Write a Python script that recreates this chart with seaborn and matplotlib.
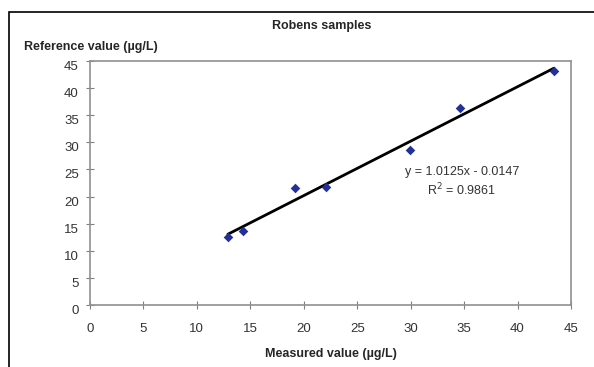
import matplotlib
matplotlib.use("Agg")
import matplotlib.pyplot as plt
import seaborn as sns
import pandas as pd
from matplotlib.patches import Rectangle

# Datos
measured = [12.9, 14.3, 19.2, 22.1, 29.9, 34.6, 43.4]
reference = [12.6, 13.7, 21.6, 21.8, 28.6, 36.3, 43.2]
ticks = [0, 5, 10, 15, 20, 25, 30, 35, 40, 45]

df = pd.DataFrame({"measured": measured, "reference": reference})

sns.set_style("white")
plt.rcParams["font.family"] = ["Liberation Sans", "DejaVu Sans"]

fig = plt.figure(figsize=(5.94, 3.67), dpi=100)
ax = fig.add_axes([90 / 594, 1 - 305 / 367, 481 / 594, 244 / 367])

# Recta de regresion y puntos
sns.regplot(data=df, x="measured", y="reference", ax=ax, ci=None, marker="D",
            scatter_kws=dict(s=24, color="#23309a", alpha=1, zorder=3, linewidths=0),
            line_kws=dict(color="black", lw=2, zorder=2))

ax.set_xlim(0, 45)
ax.set_ylim(0, 45)
ax.set_xticks(ticks)
ax.set_yticks(ticks)
ax.tick_params(bottom=True, left=True, direction="inout", length=6, width=0.8,
               color="#808080", labelsize=9.5, labelcolor="#333333")
ax.tick_params(axis="x", pad=10)
ax.tick_params(axis="y", pad=5)
for lbl in ax.get_yticklabels():
    lbl.set_va("top")
for s in ax.spines.values():
    s.set_color("#909090")
    s.set_linewidth(1.2)

ax.set_xlabel("")
ax.set_ylabel("")
fig.text(0.5 * (90 + 571) / 594, 1 - 354 / 367, "Measured value (µg/L)",
         ha="center", va="center", fontsize=9, fontweight="bold")
fig.text(24 / 594, 1 - 47 / 367, "Reference value (µg/L)",
         ha="left", va="center", fontsize=9, fontweight="bold")
fig.text(322 / 594, 1 - 26 / 367, "Robens samples",
         ha="center", va="center", fontsize=9, fontweight="bold")

ax.text(34.8, 22.7, "y = 1.0125x - 0.0147\nR$^2$ = 0.9861", ha="center", va="center",
        fontsize=9, color="#333333", linespacing=1.3)

# Marco exterior del grafico
fig.patches.append(Rectangle((9 / 594, -0.1), 2, 1.1 - 12 / 367,
                             transform=fig.transFigure, fill=False,
                             edgecolor="black", lw=1.2))

fig.savefig("out.png", dpi=100)
